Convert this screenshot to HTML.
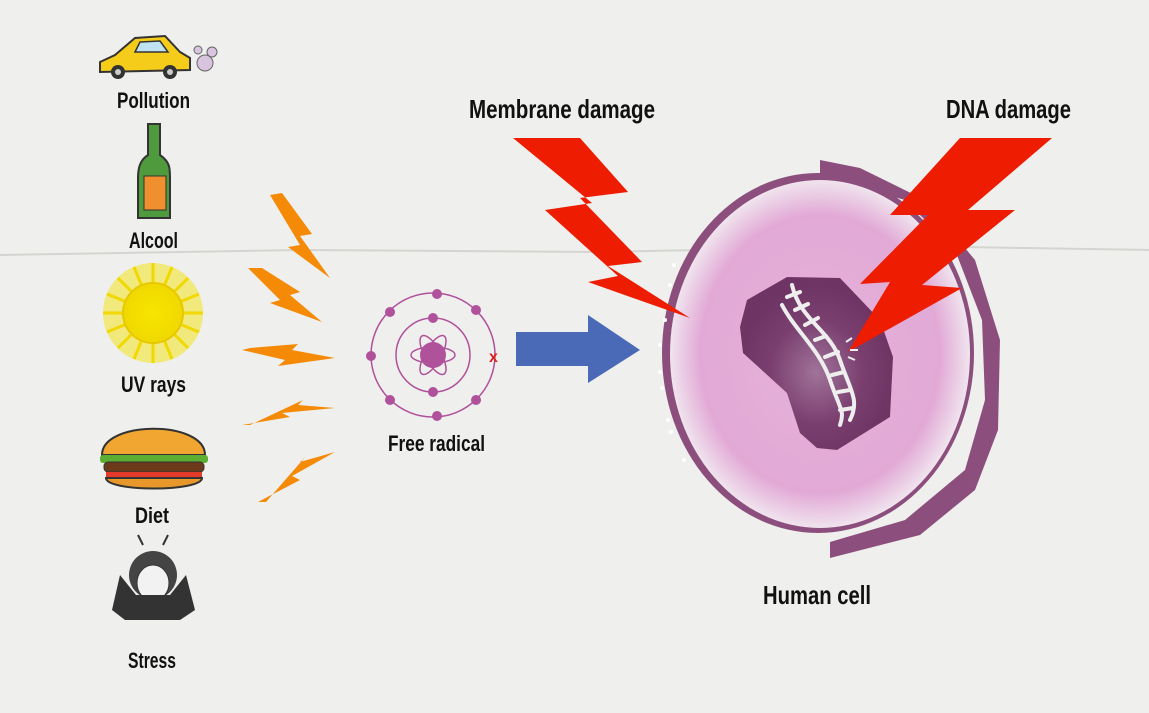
<!DOCTYPE html>
<html><head><meta charset="utf-8"><style>
html,body{margin:0;padding:0}
body{width:1149px;height:708px;overflow:hidden;background:#efefed;font-family:"Liberation Sans",sans-serif}
svg text{font-family:"Liberation Sans",sans-serif;fill:#111;font-weight:bold}
</style></head><body>
<svg width="1149" height="708" viewBox="0 0 1149 708" xmlns="http://www.w3.org/2000/svg">
<defs>
<radialGradient id="cyt" cx="50%" cy="50%" r="50%">
<stop offset="0" stop-color="#e4b3da"/><stop offset="0.8" stop-color="#e2a9d6"/><stop offset="1" stop-color="#f0e4ee"/>
</radialGradient>
<radialGradient id="nuc" cx="50%" cy="55%" r="50%">
<stop offset="0" stop-color="#a0739a"/><stop offset="0.6" stop-color="#7a3f6f"/><stop offset="1" stop-color="#6e3564"/>
</radialGradient>
<radialGradient id="sun" cx="50%" cy="50%" r="50%"><stop offset="0" stop-color="#f7e600"/><stop offset="1" stop-color="#f0d800"/></radialGradient>
</defs>
<rect width="1149" height="708" fill="#efefed"/>
<path d="M0 255 L300 250 L600 252 L900 246 L1149 250" stroke="#d4d4d0" stroke-width="2" fill="none"/>

<path d="M820 160 L860 168 L925 200 L975 260 L1000 340 L998 430 L975 490 L920 535 L830 558 L830 542 L905 520 L965 470 L985 400 L982 320 L955 250 L905 200 L820 176 Z" fill="#8c4f7d"/>
<ellipse cx="818" cy="353" rx="156" ry="180" fill="#8c4f7d"/>
<ellipse cx="820" cy="354" rx="150" ry="174" fill="url(#cyt)"/>
<g fill="#fff">
<circle cx="674" cy="265" r="2"/><circle cx="670" cy="285" r="2"/><circle cx="665" cy="320" r="2"/><circle cx="660" cy="345" r="2"/><circle cx="660" cy="372" r="2"/><circle cx="662" cy="388" r="2"/><circle cx="668" cy="420" r="2"/><circle cx="671" cy="432" r="2"/><circle cx="684" cy="460" r="2"/>
</g>
<polygon points="747,300 787,277 840,278 880,320 893,357 890,417 837,450 817,448 800,433 787,393 743,353 740,327" fill="url(#nuc)"/>
<g stroke="#eee" stroke-width="4" fill="none" stroke-linecap="round">
<path d="M792 285 C800 320, 830 330, 840 360 S 860 400, 850 420"/>
<path d="M782 305 C795 330, 820 350, 830 380 S 845 410, 840 425"/>
<path d="M787 297 L800 292 M795 310 L808 304 M805 325 L818 318 M815 340 L826 336 M825 357 L838 352 M832 375 L844 372 M838 392 L850 390 M840 410 L853 408"/>
</g>

<polygon points="513,138 580,138 628,192 580,198 642,262 608,266 690,318 588,282 618,276 545,210 592,203" fill="#ee1c00"/>
<polygon points="960,138 1052,138 968,210 1015,210 922,285 962,288 848,352 890,282 860,284 928,215 890,215" fill="#ee1c00"/>
<g stroke="#eee" stroke-width="2"><path d="M846 342 L852 338 M850 350 L858 350 M848 357 L855 360"/></g>

<text x="469" y="118" font-size="26" textLength="186" lengthAdjust="spacingAndGlyphs">Membrane damage</text>
<text x="946" y="118" font-size="26" textLength="125" lengthAdjust="spacingAndGlyphs">DNA damage</text>
<text x="763" y="604" font-size="26" textLength="108" lengthAdjust="spacingAndGlyphs">Human cell</text>

<polygon points="516,332 588,332 588,315 640,350 588,383 588,366 516,366" fill="#4a6ab8"/>

<g stroke="#b0519b" stroke-width="1.5" fill="none">
<circle cx="433" cy="355" r="62"/><circle cx="433" cy="355" r="37"/>
<ellipse cx="433" cy="355" rx="22" ry="8"/><ellipse cx="433" cy="355" rx="22" ry="8" transform="rotate(60 433 355)"/><ellipse cx="433" cy="355" rx="22" ry="8" transform="rotate(-60 433 355)"/>
</g>
<g fill="#b0519b">
<circle cx="433" cy="355" r="13"/>
<circle cx="433" cy="318" r="5"/><circle cx="433" cy="392" r="5"/>
<circle cx="437" cy="294" r="5"/><circle cx="476" cy="310" r="5"/><circle cx="371" cy="356" r="5"/><circle cx="390" cy="400" r="5"/><circle cx="476" cy="400" r="5"/><circle cx="437" cy="416" r="5"/><circle cx="390" cy="312" r="5"/>
</g>
<text x="489" y="362" font-size="16" style="fill:#e02020">x</text>
<text x="388" y="451" font-size="22" textLength="97" lengthAdjust="spacingAndGlyphs">Free radical</text>

<g fill="#f58a07">
<polygon points="270,195 300,245 288,247 330,278 300,236 312,234 282,193"/>
<polygon points="248,268 280,300 270,303 322,322 290,295 300,292 262,268"/>
<polygon points="242,350 285,360 278,366 335,358 292,350 298,344 250,348"/>
<polygon points="242,425 290,417 282,413 335,408 298,405 303,400 250,425"/>
<polygon points="258,502 300,480 292,476 335,452 300,462 306,456 266,502"/>
</g>

<g>
<path d="M100 62 L115 55 L135 38 L165 36 L180 52 L190 58 L190 70 L100 72 Z" fill="#f5cc1a" stroke="#333" stroke-width="2"/>
<path d="M140 42 L160 41 L168 52 L135 52 Z" fill="#bfe3f2" stroke="#333" stroke-width="1.5"/>
<circle cx="118" cy="72" r="7" fill="#333"/><circle cx="170" cy="72" r="7" fill="#333"/>
<circle cx="118" cy="72" r="3" fill="#ccc"/><circle cx="170" cy="72" r="3" fill="#ccc"/>
<circle cx="205" cy="63" r="8" fill="#d8c4df" stroke="#666"/><circle cx="212" cy="52" r="5" fill="#d8c4df" stroke="#666"/><circle cx="198" cy="50" r="4" fill="#d8c4df" stroke="#666"/>
</g>
<text x="117" y="108" font-size="22" textLength="73" lengthAdjust="spacingAndGlyphs">Pollution</text>

<path d="M148 124 L160 124 L160 155 C170 162 170 168 170 178 L170 218 L138 218 L138 178 C138 168 140 160 148 155 Z" fill="#4e9a3c" stroke="#333" stroke-width="2"/>
<rect x="144" y="176" width="22" height="34" fill="#f08f2d" stroke="#333"/>
<text x="129" y="248" font-size="22" textLength="49" lengthAdjust="spacingAndGlyphs">Alcool</text>

<g transform="translate(153,313)">
<circle r="50" fill="#f3e40a" opacity="0.5"/>
<g stroke="#f0d800" stroke-width="3">
<path d="M0 -50 L0 50 M-50 0 L50 0 M-35 -35 L35 35 M-35 35 L35 -35 M-19 -46 L19 46 M19 -46 L-19 46 M-46 -19 L46 19 M-46 19 L46 -19"/>
</g>
<circle r="30" fill="url(#sun)" stroke="#e7c800" stroke-width="2"/>
</g>
<text x="121" y="392" font-size="22" textLength="65" lengthAdjust="spacingAndGlyphs">UV rays</text>

<path d="M102 455 C102 420 205 420 205 455 Z" fill="#f1a632" stroke="#333" stroke-width="2"/>
<rect x="100" y="455" width="108" height="8" rx="3" fill="#5cae32"/>
<rect x="104" y="462" width="100" height="10" rx="4" fill="#6b3a1b" stroke="#333"/>
<rect x="106" y="472" width="96" height="6" fill="#e23b2a"/>
<path d="M106 478 L202 478 C202 492 106 492 106 478 Z" fill="#e8982a" stroke="#333" stroke-width="2"/>
<text x="135" y="523" font-size="22" textLength="34" lengthAdjust="spacingAndGlyphs">Diet</text>

<g>
<circle cx="153" cy="575" r="24" fill="#444"/>
<ellipse cx="153" cy="583" rx="16" ry="18" fill="#f2f2f2" stroke="#333"/>
<path d="M120 575 L112 610 L125 620 L180 620 L195 610 L186 575 L170 595 L136 595 Z" fill="#333"/>
<path d="M143 545 L138 535 M163 545 L168 535" stroke="#333" stroke-width="2"/>
</g>
<text x="128" y="668" font-size="22" textLength="48" lengthAdjust="spacingAndGlyphs">Stress</text>
</svg>
</body></html>
